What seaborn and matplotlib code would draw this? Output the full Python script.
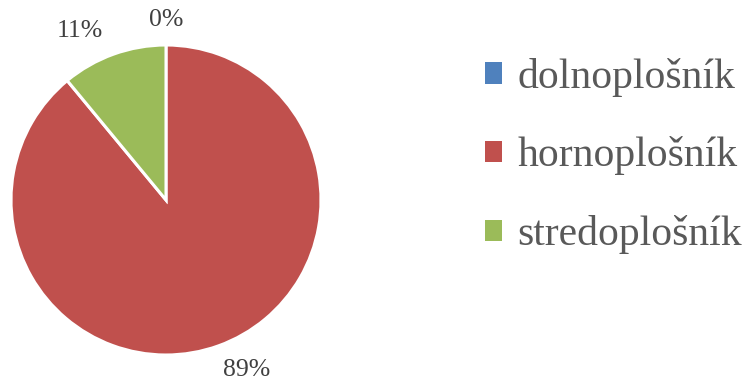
import matplotlib
matplotlib.use("Agg")
import matplotlib.pyplot as plt
import seaborn as sns
from matplotlib.patches import Patch

categories = ["dolnoplošník", "hornoplošník", "stredoplošník"]
values = [0, 89, 11]
pct_labels = ["0%", "89%", "11%"]
colors = ["#4F81BD", "#C0504D", "#9BBB59"]

sns.set_theme(style="white")
plt.rcParams['font.family'] = ['Liberation Serif', 'DejaVu Serif']

fig = plt.figure(figsize=(7.47, 3.83), dpi=100)
W, H = 747, 383
cx, cy, r = 166, 200, 155
ax = fig.add_axes([(cx - r) / W, (H - cy - r) / H, 2 * r / W, 2 * r / H])

palette = sns.color_palette(colors)
wedges, texts = ax.pie(values, colors=palette, startangle=90, counterclock=False,
                       wedgeprops=dict(edgecolor="white", linewidth=2.2),
                       labels=pct_labels, labeldistance=1.2,
                       textprops=dict(fontsize=18.5, color="#404040"))
ax.set_xlim(-1, 1)
ax.set_ylim(-1, 1)
ax.set_aspect("equal")
ax.axis("off")

label_pos = {"0%": (0.0, 1.16), "11%": (-0.555, 1.09), "89%": (0.52, -1.10)}
for t in texts:
    t.set_position(label_pos[t.get_text()])
    t.set_ha("center")
    t.set_va("center")

handles = [Patch(facecolor=c, edgecolor="none") for c in palette]
fig.legend(handles, categories, loc="center left",
           bbox_to_anchor=(485 / W, 1 - 156 / H), bbox_transform=fig.transFigure,
           frameon=False, fontsize=30, labelcolor="#595959",
           handlelength=0.4, handleheight=0.4, handletextpad=0.38,
           labelspacing=0.95, borderpad=0, borderaxespad=0)

fig.savefig("out.png", dpi=100)
